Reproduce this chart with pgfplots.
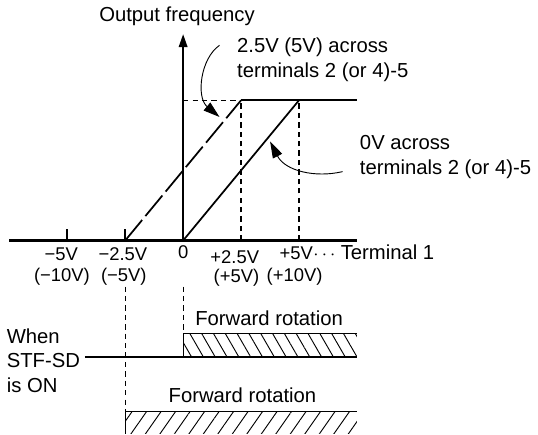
\documentclass[border=0pt]{standalone}
\usepackage{fontspec}
\setmainfont{Liberation Sans}
\usepackage{pgfplots}
\pgfplotsset{compat=1.18}
\usetikzlibrary{arrows.meta,patterns.meta}
\newcommand\mainfs{\fontsize{9.9}{12}\selectfont}
\newcommand\tickfs{\fontsize{9}{11}\selectfont}
\begin{document}
\begin{tikzpicture}
\begin{axis}[
  scale only axis, width=269pt, height=214pt,
  xmin=-8.436, xmax=15.327, ymin=-189, ymax=239,
  hide axis, clip=false,
  every node/.style={inner sep=0pt, outer sep=0pt},
]
% hatched areas
\addplot[draw=none, pattern={Lines[angle=-60, distance=5pt, line width=0.45pt]}]
  coordinates {(0,-114) (0,-91) (7.5,-91) (7.5,-114) (0,-114)};
\addplot[draw=none, pattern={Lines[angle=55, distance=5.8pt, line width=0.45pt]}]
  coordinates {(-2.5,-189) (-2.5,-167) (7.5,-167) (7.5,-189) (-2.5,-189)};
\addplot[line width=0.5pt] coordinates {(0,-114) (0,-91) (7.5,-91)};
\addplot[line width=0.5pt] coordinates {(-2.5,-189) (-2.5,-167) (7.5,-167)};
% STF-SD line
\addplot[line width=1.15pt] coordinates {(-4.24,-114) (7.5,-114)};
% dashed guides
\addplot[line width=0.6pt, dash pattern=on 2.6pt off 2pt] coordinates {(0,137) (2.5,137)};
\addplot[line width=0.6pt, dash pattern=on 2.6pt off 2pt] coordinates {(2.5,0) (2.5,137)};
\addplot[line width=0.6pt, dash pattern=on 2.6pt off 2pt] coordinates {(5,0) (5,137)};
\addplot[line width=0.6pt, dash pattern=on 2.6pt off 2pt] coordinates {(-2.5,-45) (-2.5,-189)};
\addplot[line width=0.6pt, dash pattern=on 2.6pt off 2pt] coordinates {(0,-45) (0,-91)};
% characteristic lines
\addplot[line width=0.85pt, dash pattern=on 13pt off 2.5pt] coordinates {(-2.5,0) (2.5,137)};
\addplot[line width=0.85pt] coordinates {(0,0) (5,137)};
\addplot[line width=1.1pt] coordinates {(2.5,137) (7.5,137)};
% axes
\addplot[line width=1.3pt] coordinates {(-7.5,0) (7.5,0)};
\addplot[line width=1.3pt, -{Triangle[width=4pt,length=6.5pt]}] coordinates {(0,0) (0,202)};
\addplot[line width=1.1pt] coordinates {(-5,0) (-5,11)};
\addplot[line width=1.1pt] coordinates {(-2.5,0) (-2.5,11)};
% curved arrows
\draw[line width=0.45pt, -{Triangle[width=5pt,length=8pt]}] (axis cs:1.57,190.7) .. controls (axis cs:0.75,178) and (axis cs:0.55,140) .. (axis cs:1.57,120.7);
\draw[line width=0.45pt, -{Triangle[width=5pt,length=8pt]}] (axis cs:6.88,67.3) .. controls (axis cs:5.7,61) and (axis cs:4.4,68) .. (axis cs:3.754,96.7);
% texts
\node[anchor=base, font=\mainfs] at (axis cs:-0.265,214) {Output frequency};
\node[anchor=base west, font=\mainfs] at (axis cs:2.02,183.5) {2.5V (5V) across};
\node[anchor=base west, font=\mainfs] at (axis cs:2.02,159) {terminals 2 (or 4)-5};
\node[anchor=base west, font=\mainfs] at (axis cs:7.32,89) {0V across};
\node[anchor=base west, font=\mainfs] at (axis cs:7.32,64.5) {terminals 2 (or 4)-5};
\node[anchor=base, font=\tickfs] at (axis cs:-5.26,-20) {−5V};
\node[anchor=base, font=\tickfs] at (axis cs:-5.23,-40) {(−10V)};
\node[anchor=base, font=\tickfs] at (axis cs:-2.6,-20) {−2.5V};
\node[anchor=base, font=\tickfs] at (axis cs:-2.56,-40) {(−5V)};
\node[anchor=base, font=\tickfs] at (axis cs:0,-18) {0};
\node[anchor=base, font=\tickfs] at (axis cs:2.23,-22) {+2.5V};
\node[anchor=base, font=\tickfs] at (axis cs:2.3,-41) {(+5V)};
\node[anchor=base, font=\tickfs] at (axis cs:4.88,-19) {+5V};
\node[anchor=base, font=\tickfs] at (axis cs:4.81,-40) {(+10V)};
\node[anchor=base, font=\tickfs] at (axis cs:6.1,-19) {$\cdots$};
\node[anchor=base west, font=\mainfs] at (axis cs:6.49,-19) {Terminal 1};
\node[anchor=base, font=\mainfs] at (axis cs:3.71,-82.7) {Forward rotation};
\node[anchor=base, font=\mainfs] at (axis cs:2.56,-158) {Forward rotation};
\node[anchor=base west, font=\mainfs] at (axis cs:-7.92,-101) {When};
\node[anchor=base west, font=\mainfs] at (axis cs:-7.92,-124.5) {STF-SD};
\node[anchor=base west, font=\mainfs] at (axis cs:-7.92,-148) {is ON};
\end{axis}
\end{tikzpicture}
\end{document}
